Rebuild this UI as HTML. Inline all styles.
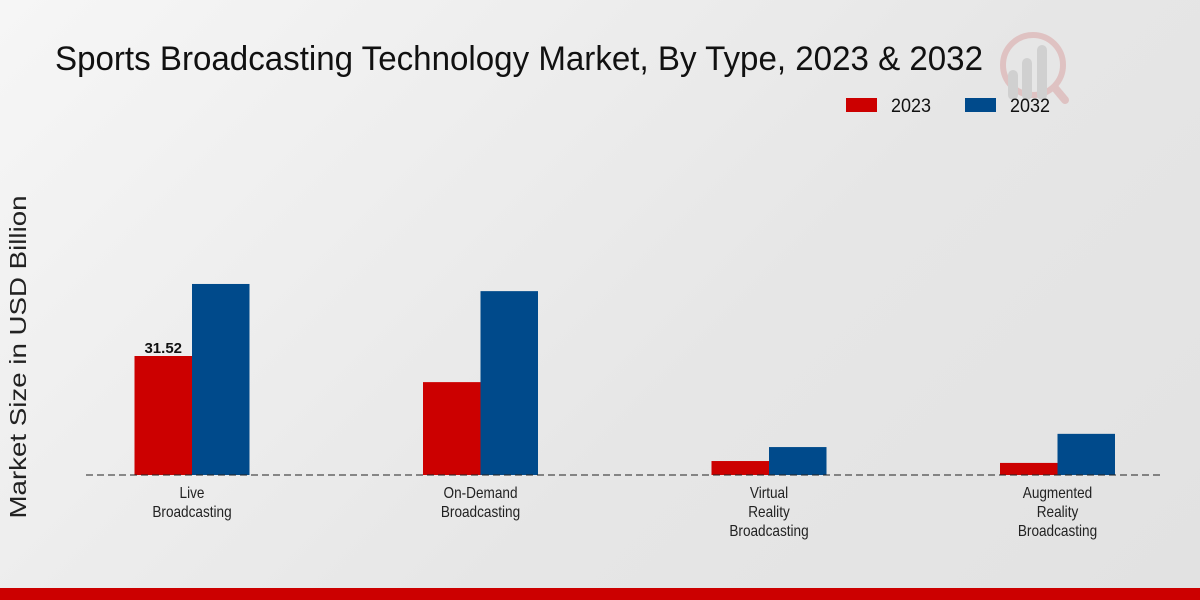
<!DOCTYPE html>
<html><head><meta charset="utf-8"><style>
body{margin:0;width:1200px;height:600px;overflow:hidden;background:linear-gradient(135deg,#f6f6f6 0%,#e6e6e6 60%,#e2e2e2 100%);font-family:"Liberation Sans",sans-serif}
svg{position:absolute;left:0;top:0}
</style></head><body>
<svg width="1200" height="600">
<g opacity="0.5">
<circle cx="1033" cy="65" r="30" fill="none" stroke="#d9a0a0" stroke-width="6"/>
<line x1="1055" y1="88" x2="1065" y2="100" stroke="#d9a0a0" stroke-width="8" stroke-linecap="round"/>
<rect x="1008" y="70" width="10" height="30" rx="5" fill="#bbb"/><rect x="1022" y="58" width="10" height="42" rx="5" fill="#bbb"/><rect x="1037" y="45" width="10" height="55" rx="5" fill="#bbb"/>
</g>
<text x="55" y="70" font-size="34" textLength="928" lengthAdjust="spacingAndGlyphs" fill="#111">Sports Broadcasting Technology Market, By Type, 2023 &amp; 2032</text>
<g>
<rect x="846" y="98" width="31" height="14" fill="#cc0000"/>
<text x="891" y="112" font-size="19" textLength="40" lengthAdjust="spacingAndGlyphs" fill="#111">2023</text>
<rect x="965" y="98" width="31" height="14" fill="#004a8b"/>
<text x="1010" y="112" font-size="19" textLength="40" lengthAdjust="spacingAndGlyphs" fill="#111">2032</text>
</g>
<text transform="translate(26,357) rotate(-90)" text-anchor="middle" font-size="23" textLength="323" lengthAdjust="spacingAndGlyphs" fill="#222">Market Size in USD Billion</text>
<g id="plot"></g>
<rect x="0" y="588" width="1200" height="12" fill="#cc0000"/>
</svg>
<script>
const categories=[["Live","Broadcasting"],["On-Demand","Broadcasting"],["Virtual","Reality","Broadcasting"],["Augmented","Reality","Broadcasting"]];
const values2023=[31.52,24.6,3.7,3.2];
const values2032=[50.6,48.7,7.4,10.9];
const labels2023=["31.52",null,null,null];
const NS="http://www.w3.org/2000/svg";
const g=document.getElementById('plot');
const base=475,scale=119/31.52,x0=192,step=288.5,bw=57.5;
const y=v=>base-v*scale;
const xc=i=>x0+i*step;
function mk(t,a){const e=document.createElementNS(NS,t);for(const k in a)e.setAttribute(k,a[k]);g.appendChild(e);return e;}
categories.forEach((c,i)=>{
 const r=mk('rect',{x:xc(i)-bw,y:y(values2023[i]),width:bw,height:values2023[i]*scale,fill:'#cc0000'});
 
 
 const b=mk('rect',{x:xc(i),y:y(values2032[i]),width:bw,height:values2032[i]*scale,fill:'#004a8b'});
 
 
 if(labels2023[i]){const t=mk('text',{x:xc(i)-bw/2,y:y(values2023[i])-3,'text-anchor':'middle','font-size':15,'font-weight':'bold',fill:'#111'});t.textContent=labels2023[i];
 
 }
 c.forEach((line,j)=>{const t=mk('text',{transform:`translate(${xc(i)},${498+j*19}) scale(0.85,1)`,'text-anchor':'middle','font-size':16,fill:'#222'});t.textContent=line;
 
 });
});
const ax=mk('line',{x1:86,x2:1164,y1:base,y2:base,stroke:'#222','stroke-dasharray':'7,4'});


</script>
</body></html>
